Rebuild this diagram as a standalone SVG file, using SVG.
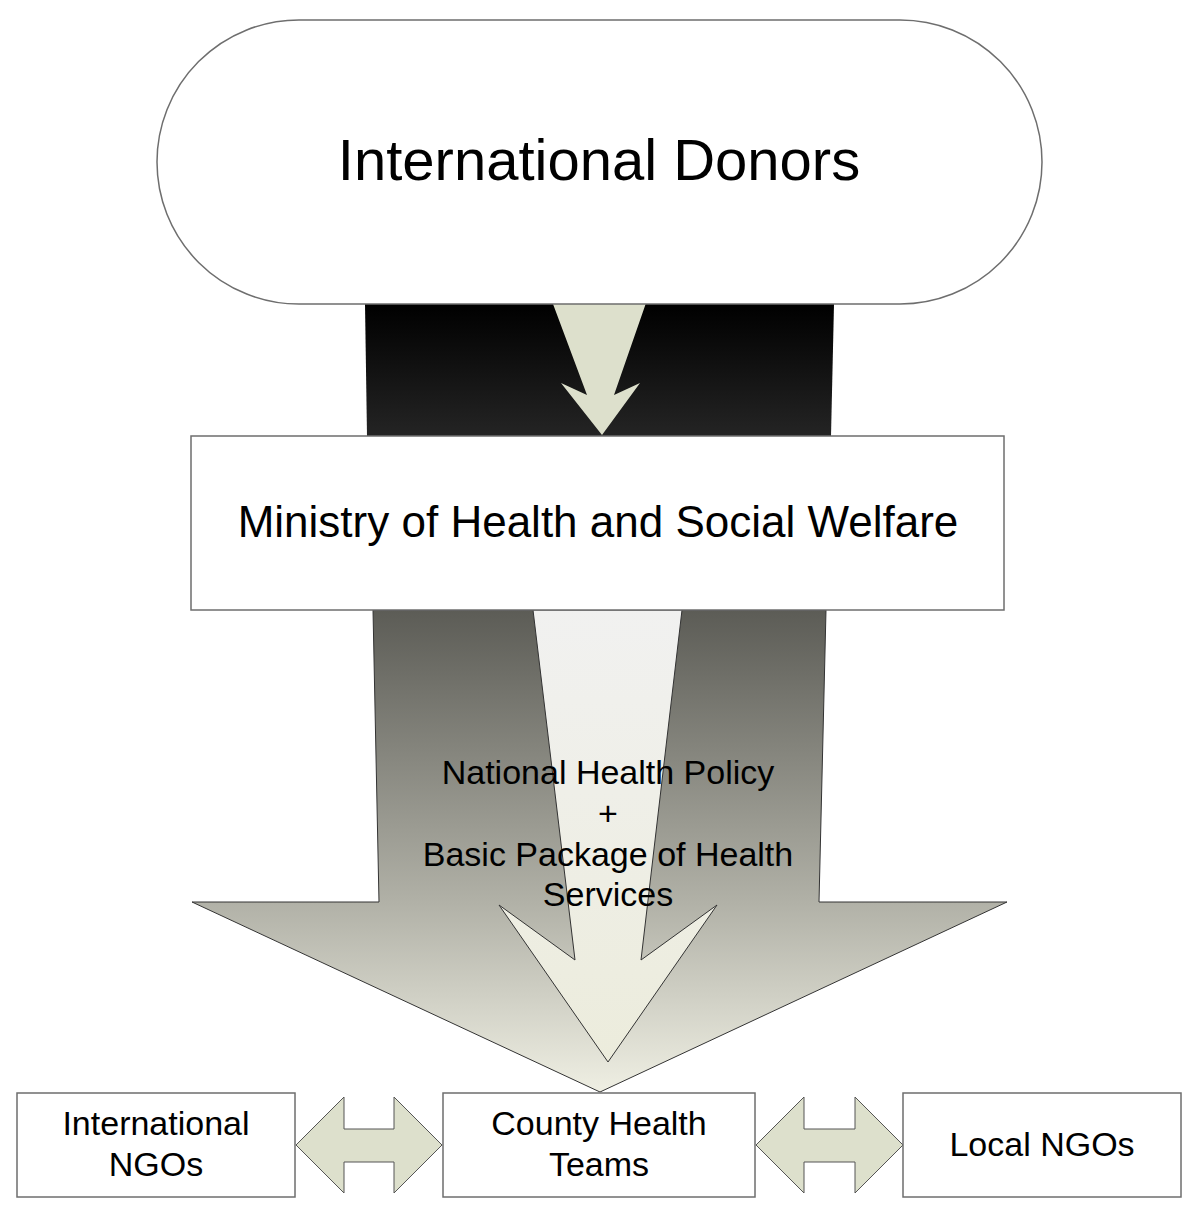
<svg xmlns="http://www.w3.org/2000/svg" width="1200" height="1217" viewBox="0 0 1200 1217">
<style>
.t{font-family:"Liberation Sans",Arial,sans-serif;fill:#000;text-anchor:middle}
.box{fill:#fff;stroke:#6e6e6e;stroke-width:1.5}
.sage{fill:#dde0cc;stroke:#555;stroke-width:1}
</style>
<defs>
<linearGradient id="gBlack" x1="0" y1="304" x2="0" y2="436" gradientUnits="userSpaceOnUse">
<stop offset="0" stop-color="#000"/><stop offset="1" stop-color="#242424"/>
</linearGradient>
<linearGradient id="gBig" x1="0" y1="610" x2="0" y2="1092" gradientUnits="userSpaceOnUse">
<stop offset="0" stop-color="#5c5c56"/><stop offset="0.6" stop-color="#b0b0a6"/><stop offset="1" stop-color="#efefe3"/>
</linearGradient>
<linearGradient id="gInner" x1="0" y1="610" x2="0" y2="1062" gradientUnits="userSpaceOnUse">
<stop offset="0" stop-color="#f1f1f0"/><stop offset="1" stop-color="#ececdc"/>
</linearGradient>
</defs>
<g id="connectors">
<polygon points="365,304 834,304 831,436 367,436" fill="url(#gBlack)"/>
<polygon points="553,304 646,303 614,395 640,383 602,435 561,383 587,395" fill="#dde0cc"/>
<polygon points="373,610 826,610 819,902 1007,902 600,1092 192,902 379,902" fill="url(#gBig)" stroke="#333" stroke-width="1"/>
<polygon points="533,610 682,610 641,960 717,905 608,1062 499,905 575,960" fill="url(#gInner)" stroke="#333" stroke-width="1"/>
<polygon class="sage" points="296,1145 344,1097 344,1129 394,1129 394,1097 442,1145 394,1193 394,1162 344,1162 344,1193"/>
<polygon class="sage" points="756,1145 804,1097 804,1129 855,1129 855,1097 903,1145 855,1193 855,1162 804,1162 804,1193"/>
</g>
<g id="donors">
<rect x="157" y="20" width="885" height="284" rx="142" ry="142" class="box"/>
<text class="t" x="599" y="180" font-size="58">International Donors</text>
</g>
<g id="ministry">
<rect x="191" y="436" width="813" height="174" class="box"/>
<text class="t" x="598" y="537" font-size="44">Ministry of Health and Social Welfare</text>
</g>
<g id="policy">
<text class="t" x="608" y="784" font-size="34">National Health Policy</text>
<text class="t" x="608" y="825" font-size="34">+</text>
<text class="t" x="608" y="866" font-size="34">Basic Package of Health</text>
<text class="t" x="608" y="906" font-size="34">Services</text>
</g>
<g id="intl-ngos">
<rect x="17" y="1093" width="278" height="104" class="box"/>
<text class="t" x="156" y="1135" font-size="34">International</text>
<text class="t" x="156" y="1176" font-size="34">NGOs</text>
</g>
<g id="county">
<rect x="443" y="1093" width="312" height="104" class="box"/>
<text class="t" x="599" y="1135" font-size="34">County Health</text>
<text class="t" x="599" y="1176" font-size="34">Teams</text>
</g>
<g id="local-ngos">
<rect x="903" y="1093" width="278" height="104" class="box"/>
<text class="t" x="1042" y="1156" font-size="34">Local NGOs</text>
</g>
</svg>
